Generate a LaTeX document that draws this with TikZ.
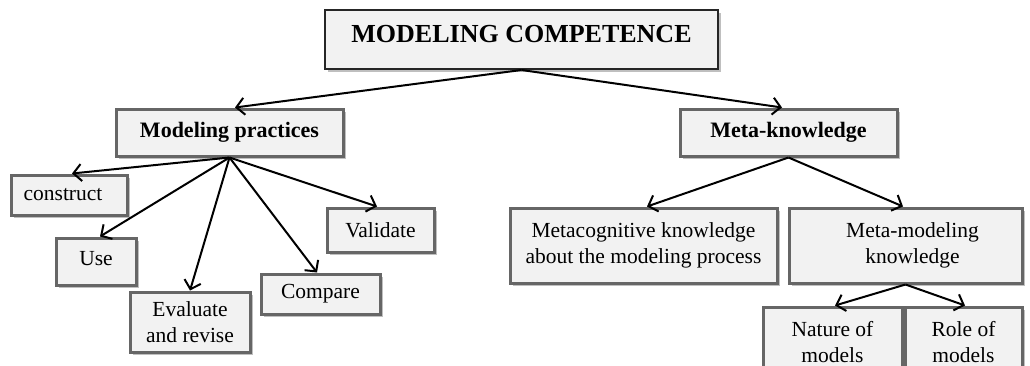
\documentclass[tikz,border=0pt]{standalone}
\usepackage{fontspec}
\setmainfont{Liberation Serif}
\usetikzlibrary{arrows.meta,shadows}

\definecolor{boxfill}{HTML}{F2F2F2}
\definecolor{boxline}{HTML}{666666}

\tikzset{
	box/.style={draw=boxline, line width=3pt, fill=boxfill, inner sep=0pt, align=center,
		font=\fontsize{21.5}{26.5}\selectfont,
		drop shadow={shadow xshift=2.5pt, shadow yshift=-2.5pt, fill=black!25, opacity=1}},
	link/.style={line width=2pt, -{Straight Barb[length=8pt, width=17pt, line width=2pt]}}
}

\begin{document}
\begin{tikzpicture}[x=1pt, y=-1pt]
	\clip (0,0) rectangle (1030,365);
	\useasboundingbox (0,0) rectangle (1030,365);
	\node [box, draw=black!85, line width=2pt, minimum width=393pt, minimum height=59pt,
		text height=32pt, text depth=27pt, font=\fontsize{26}{30}\selectfont\bfseries]
		(competence) at (521.5,39.5) {MODELING COMPETENCE};
	\node [box, minimum width=227pt, minimum height=47pt, font=\fontsize{22}{26}\selectfont\bfseries]
		(practices) at (229.5,132.5) {Modeling practices};
	\node [box, minimum width=217pt, minimum height=47pt, font=\fontsize{22}{26}\selectfont\bfseries]
		(meta) at (788.5,132.5) {Meta-knowledge};

	\node [box, minimum width=116pt, minimum height=40pt] (construct) at (69,195) {construct\hspace{12pt}};
	\node [box, minimum width=80pt, minimum height=47pt, text height=27pt, text depth=20pt] (use) at (96,261.5) {Use};
	\node [box, minimum width=120pt, minimum height=60pt] (evaluate) at (190,322) {Evaluate \\ and revise};
	\node [box, minimum width=119pt, minimum height=40pt] (compare) at (320.5,294) {Compare};
	\node [box, minimum width=107pt, minimum height=44pt] (validate) at (380.5,230) {Validate};

	\node [box, minimum width=267pt, minimum height=75pt] (metacog) at (643.5,245.5) {Metacognitive knowledge \\ about the modeling process};
	\node [box, minimum width=233pt, minimum height=75pt] (metamod) at (905.5,245.5) {\hspace{14pt}Meta-modeling \\ \hspace{14pt}knowledge};
	\node [box, minimum width=139pt, minimum height=70pt] (nature) at (832.5,342) {Nature of \\ models};
	\node [box, minimum width=117pt, minimum height=70pt] (role) at (963.5,342) {Role of \\ models};

	\draw [link] (competence.south) -- (practices.north -| 235,0);
	\draw [link] (competence.south) -- (meta.north -| 782,0);
	\draw [link] (practices.south) -- (construct.north -| 72,0);
	\draw [link] (practices.south) -- (use.north -| 100,0);
	\draw [link] (practices.south) -- (evaluate.north);
	\draw [link] (practices.south) -- (compare.north -| 317,0);
	\draw [link] (practices.south) -- (validate.north -| 377,0);
	\draw [link] (meta.south) -- (metacog.north -| 647,0);
	\draw [link] (meta.south) -- (metamod.north -| 903,0);
	\draw [link] (metamod.south) -- (nature.north -| 835,0);
	\draw [link] (metamod.south) -- (role.north -| 965,0);
\end{tikzpicture}
\end{document}
